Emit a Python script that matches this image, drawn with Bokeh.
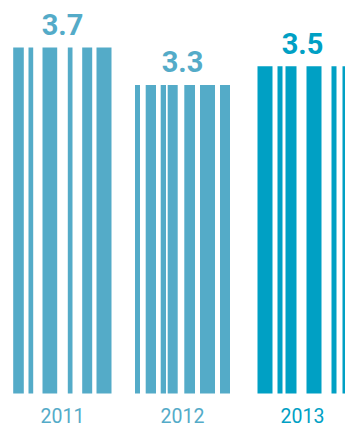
from bokeh.plotting import figure
from bokeh.models import ColumnDataSource, Range1d
from bokeh.core.properties import value
from bokeh.embed import file_html
from bokeh.resources import INLINE

# ---- data ----
years = ["2011", "2012", "2013"]
values = [3.7, 3.3, 3.5]
value_labels = ["3.7", "3.3", "3.5"]

# ---- styles ----
colors = ["#54abc8", "#54abc8", "#00a0c4"]
STEP = 120.0  # pixel distance between group centres (for stripe styling)
# stripe pattern (left, right) in pixels relative to group centre
stripe_patterns = [
    [(-49.3, -38.7), (-34, -29.3), (-20, -5.3), (5.3, 10), (19.7, 29.7), (34, 49)],
    [(-47.5, -42.5), (-36.8, -26.5), (-21.8, -16.5), (-14.8, -4.8), (1.8, 12.5), (17.5, 32.5), (37.5, 47.5)],
    [(-45, -30), (-25, -20), (-17, -6), (4, 19), (29, 34), (40, 52)],
]

left, right, top, bottom, fill = [], [], [], [], []
for i, (v, c) in enumerate(zip(values, colors)):
    for (a, b) in stripe_patterns[i]:
        left.append(i + a / STEP)
        right.append(i + b / STEP)
        top.append(v)
        bottom.append(0)
        fill.append(c)

PX_PER_UNIT = 93.51
bars = ColumnDataSource(dict(left=left, right=right, top=top, bottom=bottom, color=fill))
labels = ColumnDataSource(dict(x=list(range(len(years))), y=values, text=value_labels,
                               year=years, color=colors,
                               ybase=[-21.5 / PX_PER_UNIT] * len(years)))

p = figure(width=345, height=426, output_backend="svg", toolbar_location=None,
           x_range=Range1d(-62 / STEP, (345 - 62) / STEP),
           y_range=Range1d(-33 / PX_PER_UNIT, 393 / PX_PER_UNIT),
           x_axis_type=None, y_axis_type=None, min_border=0,
           outline_line_color=None, background_fill_color="white",
           border_fill_color="white")
p.grid.visible = False

p.quad(left="left", right="right", top="top", bottom="bottom", fill_color="color",
       line_color=None, source=bars)

p.text(x="x", y="y", text="text", source=labels, text_color="color",
       text_font=value("Roboto"), text_font_style="bold", text_font_size="29px",
       text_align="center", text_baseline="middle", y_offset=-23)

p.text(x="x", y="ybase", text="year", source=labels, text_color="color",
       text_font=value("Roboto"), text_font_size="19.5px",
       text_align="center", text_baseline="middle")

open("out.html", "w").write(file_html(p, INLINE))
